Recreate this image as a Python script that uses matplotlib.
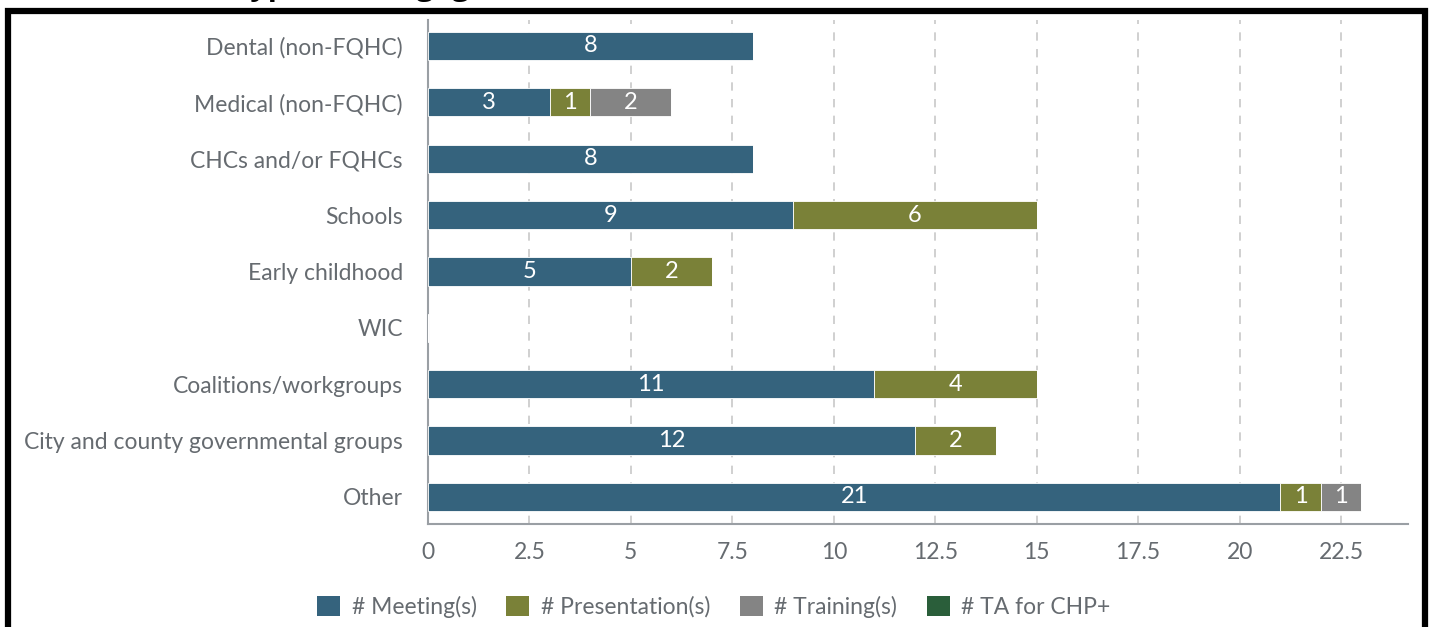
import matplotlib.pyplot as plt
import numpy as np
from matplotlib.patches import Rectangle, Patch

plt.rcParams['font.family'] = ['Lato', 'DejaVu Sans']

categories = [
    "Dental (non-FQHC)",
    "Medical (non-FQHC)",
    "CHCs and/or FQHCs",
    "Schools",
    "Early childhood",
    "WIC",
    "Coalitions/workgroups",
    "City and county governmental groups",
    "Other",
]
meetings = [8, 3, 8, 9, 5, 0, 11, 12, 21]
presentations = [0, 1, 0, 6, 2, 0, 4, 2, 1]
trainings = [0, 2, 0, 0, 0, 0, 0, 0, 1]
ta_chp = [0, 0, 0, 0, 0, 0, 0, 0, 0]

series = [
    ("# Meeting(s)", meetings, "#35637d"),
    ("# Presentation(s)", presentations, "#7a8138"),
    ("# Training(s)", trainings, "#848484"),
    ("# TA for CHP+", ta_chp, "#2a5e3a"),
]
xticks = [0, 2.5, 5, 7.5, 10, 12.5, 15, 17.5, 20, 22.5]
xtick_labels = ["0", "2.5", "5", "7.5", "10", "12.5", "15", "17.5", "20", "22.5"]

fig = plt.figure(figsize=(14.29, 6.27), dpi=100)
ax = fig.add_axes([428 / 1429, 1 - 524 / 627, (1408 - 428) / 1429, (524 - 20) / 627])

y = np.arange(len(categories))
left = np.zeros(len(categories))
for name, vals, color in series:
    vals = np.array(vals, dtype=float)
    ax.barh(y, vals, left=left, height=0.5, color=color, edgecolor="white",
            linewidth=0.6, zorder=3, label=name)
    for yi, (l, v) in enumerate(zip(left, vals)):
        if v > 0:
            ax.text(l + v / 2, yi, f"{int(v)}", ha="center", va="center",
                    color="white", fontsize=17, zorder=4)
    left += vals

ax.set_xlim(0, 24.15)
ax.set_ylim(8.48, -0.46)
ax.set_yticks(y)
ax.set_yticklabels(categories, fontsize=16.5, color="#666b70")
ax.set_xticks(xticks)
ax.set_xticklabels(xtick_labels, fontsize=16.5, color="#666b70")
ax.tick_params(axis="y", length=0, pad=18)
ax.tick_params(axis="x", length=0, pad=13)
ax.grid(axis="x", color="#c8c8c8", linestyle=(0, (5, 5)), linewidth=1.2, zorder=0)
for side in ["top", "right"]:
    ax.spines[side].set_visible(False)
for side in ["left", "bottom"]:
    ax.spines[side].set_color("#9a9fa4")
    ax.spines[side].set_linewidth(1.5)

handles = [Patch(facecolor=c, edgecolor="none") for _, _, c in series]
labels = [n for n, _, _ in series]
fig.legend(handles, labels, loc="center", bbox_to_anchor=(714 / 1429, 1 - 607 / 627),
           ncol=4, frameon=False, fontsize=16.5, labelcolor="#666b70",
           handlelength=1.0, handleheight=1.0, handletextpad=0.5, columnspacing=1.3)

# black frame around the chart (extends below the visible area)
fig.patches.append(Rectangle((8 / 1429, -0.05), (1425 - 8) / 1429, 1.05 - 10.5 / 627,
                             transform=fig.transFigure, fill=False,
                             edgecolor="black", linewidth=4.5, zorder=10))

# title cut off at the top of the image (only descenders show)
fig.text(113 / 1429, 1 + 5 / 627, "Partner type and engagement", fontsize=22,
         fontweight="bold", family="Open Sans", va="baseline", ha="left", color="black")

fig.savefig("out.png", dpi=100)
